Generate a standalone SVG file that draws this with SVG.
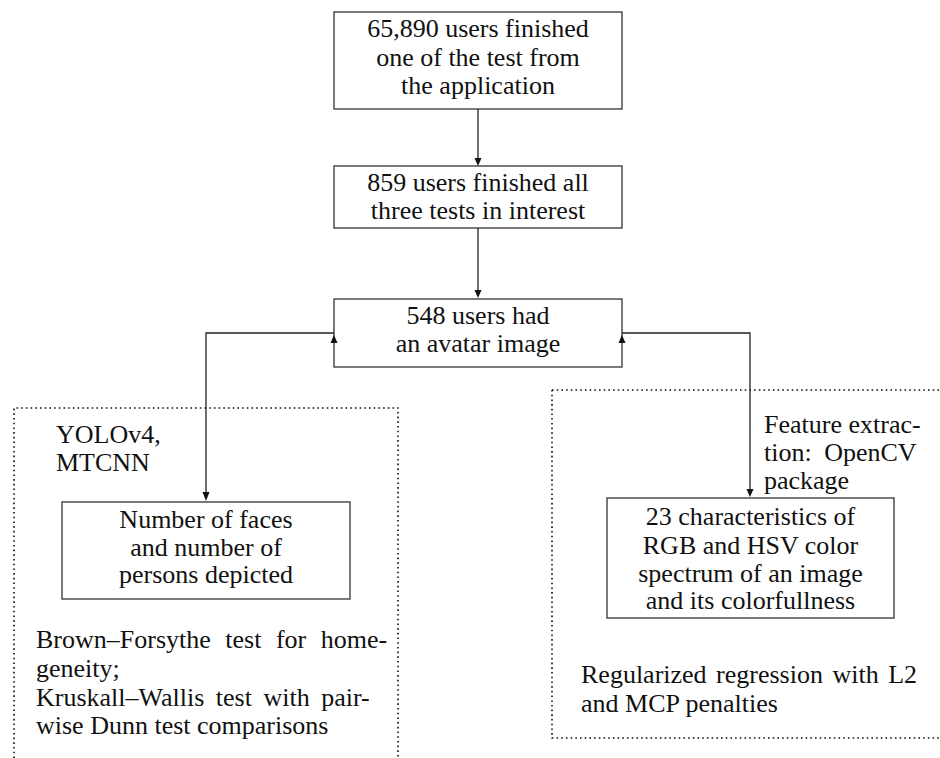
<svg xmlns="http://www.w3.org/2000/svg" width="940" height="758" viewBox="0 0 940 758">
<defs>
<style>
.box{fill:#fff;stroke:#333;stroke-width:1.3}
.dot{fill:none;stroke:#111;stroke-width:1.6;stroke-dasharray:1.6 3.1}
.ln{fill:none;stroke:#222;stroke-width:1.3}
.ah{fill:#111}
text{font-family:"Liberation Serif","Times New Roman",serif;font-size:26px;fill:#111}
.c{text-anchor:middle}
</style>
</defs>
<rect width="940" height="758" fill="#fff"/>
<g id="region-left">
<path class="dot" d="M14,758 V408 H398 V758"/>
<text x="56" y="443">YOLOv4,</text>
<text x="56" y="471">MTCNN</text>
<text x="36" y="648" word-spacing="8">Brown–Forsythe test for home-</text>
<text x="36" y="677">geneity;</text>
<text x="36" y="706" word-spacing="5">Kruskall–Wallis test with pair-</text>
<text x="36" y="734">wise Dunn test comparisons</text>
</g>
<g id="region-right">
<path class="dot" d="M552,390 H940 M552,390 V738 H940"/>
<text x="764" y="433" word-spacing="0">Feature extrac-</text>
<text x="764" y="461" word-spacing="6">tion: OpenCV</text>
<text x="764" y="489">package</text>
<text x="581" y="683" word-spacing="3">Regularized regression with L2</text>
<text x="581" y="712">and MCP penalties</text>
</g>
<g id="n1">
<rect class="box" x="334" y="12" width="288" height="97"/>
<text class="c" x="478" y="37">65,890 users finished</text>
<text class="c" x="478" y="66">one of the test from</text>
<text class="c" x="478" y="94">the application</text>
</g>
<g id="n2">
<rect class="box" x="334" y="166" width="288" height="62"/>
<text class="c" x="478" y="191">859 users finished all</text>
<text class="c" x="478" y="219">three tests in interest</text>
</g>
<g id="n3">
<rect class="box" x="334" y="299" width="288" height="68"/>
<text class="c" x="478" y="324">548 users had</text>
<text class="c" x="478" y="352">an avatar image</text>
</g>
<g id="n4">
<rect class="box" x="62" y="502" width="288" height="97"/>
<text class="c" x="206" y="528">Number of faces</text>
<text class="c" x="206" y="556">and number of</text>
<text class="c" x="206" y="583">persons depicted</text>
</g>
<g id="n5">
<rect class="box" x="607" y="498" width="287" height="120"/>
<text class="c" x="750.5" y="525">23 characteristics of</text>
<text class="c" x="750.5" y="554">RGB and HSV color</text>
<text class="c" x="750.5" y="582">spectrum of an image</text>
<text class="c" x="750.5" y="609">and its colorfullness</text>
</g>
<g id="connectors">
<path class="ln" d="M478,109 V160"/>
<path class="ah" d="M474.5,158 L481.5,158 L478,166 Z"/>
<path class="ln" d="M478,228 V292"/>
<path class="ah" d="M474.5,290 L481.5,290 L478,298 Z"/>
<path class="ln" d="M334,333 H206 V494"/>
<path class="ah" d="M202.5,492 L209.5,492 L206,501 Z"/>
<path class="ah" d="M330.5,343 L337.5,343 L334,335 Z"/>
<path class="ln" d="M622,333 H750 V490"/>
<path class="ah" d="M746.5,489 L753.5,489 L750,497 Z"/>
<path class="ah" d="M618.5,343 L625.5,343 L622,335 Z"/>
</g>
</svg>
